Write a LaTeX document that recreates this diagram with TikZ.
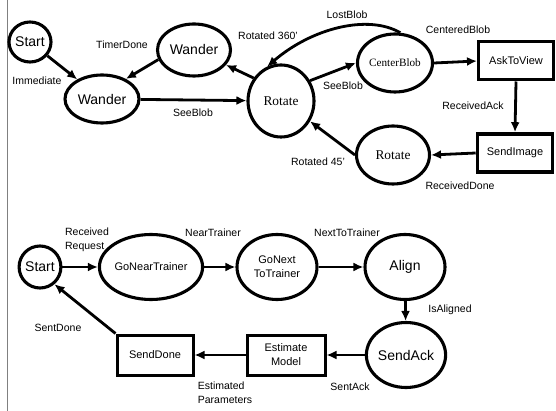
\documentclass[tikz,border=0pt]{standalone}
\usepackage{fontspec}
\setmainfont{Liberation Sans}
\newfontfamily\serifstate{Liberation Serif}
\usetikzlibrary{arrows.meta, shapes.geometric}

\begin{document}
\begin{tikzpicture}[
    x=1pt, y=-1pt,
    state/.style={
        ellipse,
        draw,
        line width=3.1pt,
        inner sep=0pt,
        align=center,
        font=\fontsize{14}{16}\selectfont
    },
    smallstate/.style={
        state,
        font=\fontsize{11}{14}\selectfont
    },
    box/.style={
        rectangle,
        draw,
        line width=3pt,
        minimum width=75pt,
        minimum height=38pt,
        align=center,
        font=\fontsize{11}{14}\selectfont
    },
    arrow/.style={
        -{Latex[length=10pt, width=9pt]},
        line width=2.8pt
    },
    lbl/.style={
        font=\fontsize{10.5}{14}\selectfont,
        inner sep=1pt,
        align=left
    }
]
\useasboundingbox (0,0) rectangle (556,411);
\draw[gray, line width=1pt] (7,0) -- (7,411);

% === Top machine: find and show the blob ===
\node[state, minimum width=42pt, minimum height=40pt] (start) at (30,42) {Start};
\node[state, minimum width=74pt, minimum height=48pt] (wanderA) at (102,99) {Wander};
\node[state, minimum width=73pt, minimum height=52pt] (wanderB) at (194,50) {Wander};
\node[state, minimum width=66pt, minimum height=72pt, font=\serifstate\fontsize{13.4}{16}\selectfont] (rotA) at (281,101) {Rotate};
\node[state, minimum width=75pt, minimum height=58pt, font=\serifstate\fontsize{11.2}{14}\selectfont] (cblob) at (395,63) {CenterBlob};
\node[box] (ask) at (516,61) {AskToView};
\node[box, line width=3.6pt] (sendimg) at (515,153) {SendImage};
\node[state, minimum width=73pt, minimum height=58pt, font=\serifstate\fontsize{13.4}{16}\selectfont] (rotB) at (393,155) {Rotate};

\draw[arrow] (start) -- (wanderA);
\draw[arrow] (wanderB.195) -- (wanderA.40);
\draw[arrow] (wanderA) -- (rotA);
\draw[arrow] (rotA.140) -- (wanderB.-25);
\draw[arrow] (rotA.35) -- (cblob.west);
\draw[arrow] (cblob.80) .. controls (368,14) and (312,28) .. (rotA.112);
\draw[arrow] (cblob.east) -- (ask.west);
\draw[arrow] (ask.south) -- (sendimg.north);
\draw[arrow] (sendimg.west) -- (rotB.east);
\draw[arrow] (rotB.west) -- (rotA.-35);

\node[lbl] (lImm) at (37,81) {Immediate};
\node[lbl] (lTimer) at (122,45) {TimerDone};
\node[lbl] (lRot360) at (268,36) {Rotated 360'};
\node[lbl] (lSee1) at (193,113) {SeeBlob};
\node[lbl] (lLost) at (347,15) {LostBlob};
\node[lbl] (lSee2) at (343,86) {SeeBlob};
\node[lbl] (lCent) at (458,30) {CenteredBlob};
\node[lbl] (lAck) at (473,106) {ReceivedAck};
\node[lbl] (lRot45) at (318,162) {Rotated 45'};
\node[lbl] (lDone) at (460,186) {ReceivedDone};

% === Bottom machine: trainer interaction ===
\node[state, minimum width=40pt, minimum height=42pt] (start2) at (40,267) {Start};
\node[smallstate, minimum width=85pt, minimum height=65pt] (gonear) at (151,267) {GoNearTrainer};
\node[smallstate, minimum width=80pt, minimum height=65pt] (gonext) at (277,267) {GoNext\\ToTrainer};
\node[state, minimum width=80pt, minimum height=65pt] (align) at (405,267) {Align};
\node[state, minimum width=78pt, minimum height=65pt] (sendack) at (406,355) {SendAck};
\node[box, minimum width=78pt, minimum height=40pt] (estimate) at (286,355) {Estimate\\Model};
\node[box, minimum width=76pt, minimum height=40pt] (senddone) at (155,355) {SendDone};

\draw[arrow] (start2) -- (gonear);
\draw[arrow] (gonear) -- (gonext);
\draw[arrow] (gonext) -- (align);
\draw[arrow] (align) -- (sendack);
\draw[arrow] (sendack) -- (estimate);
\draw[arrow] (estimate) -- (senddone);
\draw[arrow] (senddone.north west) -- (start2.-50);

\node[lbl] (lReq) at (87,240) {Received\\Request};
\node[lbl] (lNear) at (213,233) {NearTrainer};
\node[lbl] (lNext) at (347,233) {NextToTrainer};
\node[lbl] (lAligned) at (450,310) {IsAligned};
\node[lbl] (lSentAck) at (350,387) {SentAck};
\node[lbl] (lEst) at (225,393) {Estimated\\Parameters};
\node[lbl] (lSentDone) at (58,328) {SentDone};

\end{tikzpicture}
\end{document}
